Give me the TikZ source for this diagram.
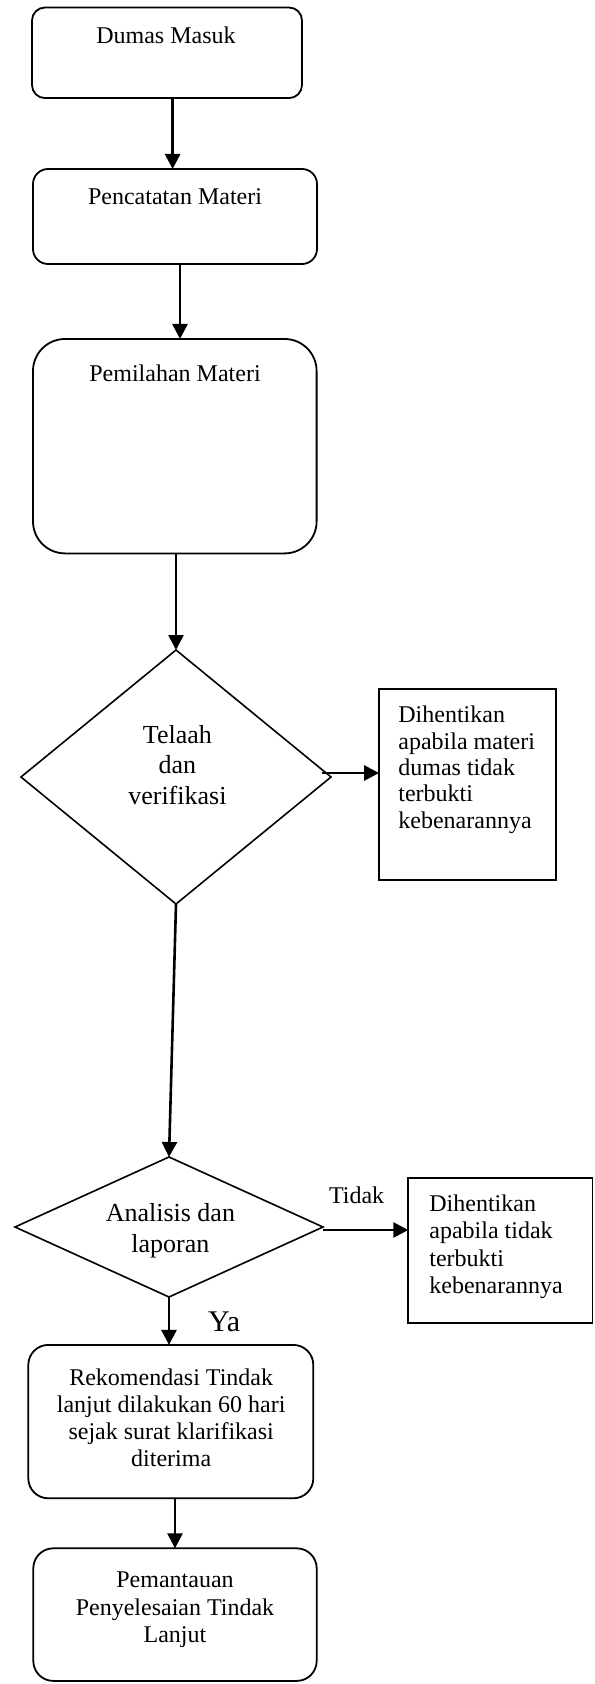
\documentclass[tikz,border=0pt]{standalone}
\usepackage{fontspec}
\setmainfont{Liberation Serif}
\usetikzlibrary{shapes.geometric,arrows.meta}
\begin{document}
\begin{tikzpicture}[x=1pt,y=-1pt,
  rbox/.style={draw,line width=0.9pt,rounded corners=#1,inner sep=0pt,outer sep=0pt},
  sbox/.style={draw,line width=0.9pt,inner sep=0pt,outer sep=0pt},
  dia/.style={draw,diamond,line width=0.8pt,inner sep=0pt,outer sep=0pt},
  arr/.style={-{Triangle[length=7.5pt,width=7.5pt]},line width=1.3pt},
  txt/.style={inner sep=0pt,outer sep=0pt,font=\fontsize{12}{13.5}\selectfont},
  ltxt/.style={inner sep=0pt,outer sep=0pt,align=left,anchor=base west,font=\fontsize{12}{#1}\selectfont},
  ctxt/.style={inner sep=0pt,outer sep=0pt,align=center,anchor=base,font=\fontsize{12}{#1}\selectfont},
  dtxt/.style={inner sep=0pt,outer sep=0pt,align=center,anchor=base,font=\fontsize{13}{15.2}\selectfont}
]
\useasboundingbox (0,0) rectangle (297,842);

% boxes (multi-line texts are placed by the baseline of their last line)
\node[rbox=6.5pt,minimum width=135pt,minimum height=45.3pt] (b1) at (83.5,26.4) {};
\node[txt,anchor=base] (t1) at (83,22) {Dumas Masuk};

\node[rbox=7.5pt,minimum width=142pt,minimum height=47.5pt] (b2) at (87.5,108.25) {};
\node[txt,anchor=base] (t2) at (87.5,102.5) {Pencatatan Materi};

\node[rbox=16pt,minimum width=141.8pt,minimum height=107.2pt] (b3) at (87.4,223.1) {};
\node[txt,anchor=base] (t3) at (87.5,190.8) {Pemilahan Materi};

\node[dia,minimum width=155pt,minimum height=127pt] (d1) at (88,388.5) {};
\node[dtxt] (td1) at (88.7,402.1) {Telaah\\dan\\verifikasi};

\node[sbox,minimum width=88.3pt,minimum height=95.3pt] (x1) at (233.7,392.3) {};
\node[ltxt=13.2] (tx1) at (199.2,414.1) {Dihentikan\\apabila materi\\dumas tidak\\terbukti\\kebenarannya};

\node[dia,minimum width=154pt,minimum height=70pt] (d2) at (84.5,613.5) {};
\node[dtxt] (td2) at (85.2,626) {Analisis dan\\laporan};

\node[sbox,minimum width=92.1pt,minimum height=72.5pt] (x2) at (250.2,625.4) {};
\node[ltxt=13.6] (tx2) at (214.7,646.6) {Dihentikan\\apabila tidak\\terbukti\\kebenarannya};

\node[txt,anchor=base] (tidak) at (178.3,601.7) {Tidak};
\node[inner sep=0pt,anchor=base,font=\fontsize{15}{17}\selectfont] (ya) at (112.1,665.8) {Ya};

\node[rbox=10pt,minimum width=142.5pt,minimum height=76.7pt] (r) at (85.4,710.8) {};
\node[ctxt=13.5] (tr) at (85.6,733) {Rekomendasi Tindak\\lanjut dilakukan 60 hari\\sejak surat klarifikasi\\diterima};

\node[rbox=10pt,minimum width=141.7pt,minimum height=66.3pt] (p) at (87.5,807.3) {};
\node[ctxt=13.85] (tp) at (87.5,821.4) {Pemantauan\\Penyelesaian Tindak\\Lanjut};

% connectors
\draw[arr] ([xshift=2.8pt]b1.south) -- ([xshift=2.8pt]b1.south |- b2.north);
\draw[arr] ([xshift=2.5pt]b2.south) -- ([xshift=2.5pt]b2.south |- b3.north);
\draw[arr] (b3.south -| d1.north) -- (d1.north);
\draw[arr] ([xshift=-4.5pt,yshift=2pt]d1.east) -- ([yshift=2pt]d1.east -| x1.west);
\draw[arr] (d1.south) -- (d2.north);
\draw[arr] ([yshift=-1.5pt]d2.east) -- ([yshift=-1.5pt]d2.east -| x2.west);
\draw[arr] (d2.south) -- (d2.south |- r.north);
\draw[arr] ([xshift=2.1pt]r.south) -- ([xshift=2.1pt]r.south |- p.north);
\end{tikzpicture}
\end{document}
